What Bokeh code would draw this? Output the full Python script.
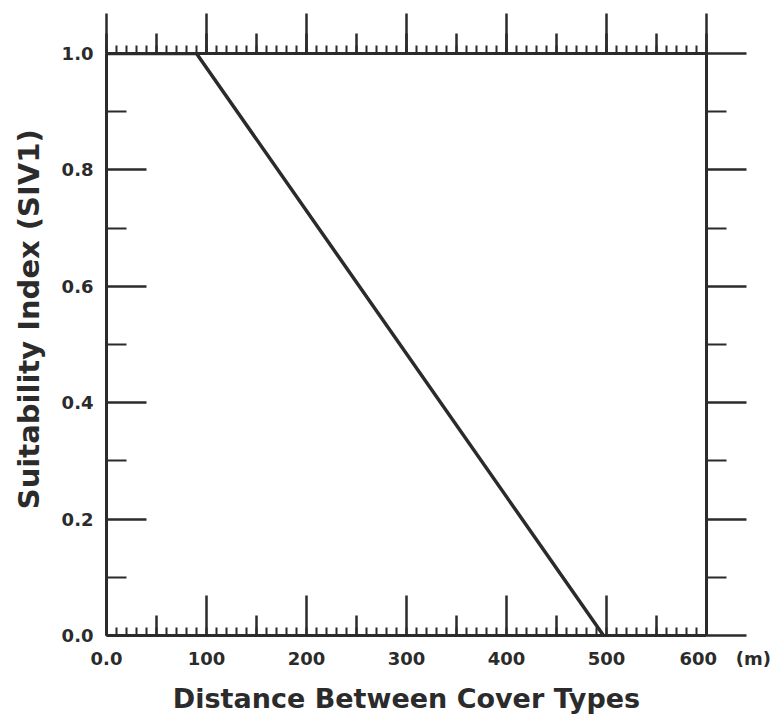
from bokeh.plotting import figure
from bokeh.models import LinearAxis, FixedTicker, CustomJSTickFormatter, Range1d
from bokeh.embed import file_html
from bokeh.resources import INLINE

# ---- data ----
dist_m = [0, 90, 497]
suitability = [1.0, 1.0, 0.0]

x_major_ticks = [0, 100, 200, 300, 400, 500, 600]
x_tick_labels = ["0.0", "100", "200", "300", "400", "500", "600"]
x_mid_ticks = [50, 150, 250, 350, 450, 550]
x_minor_ticks = list(range(0, 601, 10))
y_major_ticks = [0.0, 0.2, 0.4, 0.6, 0.8, 1.0]
y_tick_labels = ["0.0", "0.2", "0.4", "0.6", "0.8", "1.0"]
y_minor_ticks = [0.1, 0.3, 0.5, 0.7, 0.9]
x_title = "Distance Between Cover Types"
y_title = "Suitability Index (SIV1)"
x_unit = "(m)"

INK = "#2b2b2b"
FONT = "DejaVu Sans"
TICK_FS = "18px"

# last tick label carries the unit, padded so the number stays near its tick
FIG_SP = "\u2007"
NBSP = "\u00a0"
x_labels_shown = list(x_tick_labels)
x_labels_shown[-1] = FIG_SP * 3 + x_tick_labels[-1] + NBSP * 3 + x_unit
# y title sits a little above the frame centre in the original
y_title_shown = NBSP * 5 + y_title

p = figure(width=772, height=716, output_backend="svg", toolbar_location=None,
           x_range=Range1d(0, 600), y_range=Range1d(0, 1),
           x_axis_location=None, y_axis_location=None,
           min_border_left=106, min_border_top=53, min_border_right=66, min_border_bottom=79)
p.outline_line_color = None
p.grid.visible = False
p.background_fill_color = "white"
p.border_fill_color = "white"

blank = CustomJSTickFormatter(code="return ''")

def style_line(ax):
    ax.axis_line_color = INK
    ax.axis_line_width = 3
    ax.major_tick_line_color = INK
    ax.major_tick_line_width = 2.5
    ax.minor_tick_line_color = INK
    ax.minor_tick_line_width = 2

# top: inner axis with mid (50s) and minor ticks
t1 = LinearAxis(ticker=FixedTicker(ticks=x_mid_ticks + x_major_ticks, minor_ticks=x_minor_ticks),
                formatter=blank, major_label_standoff=0)
style_line(t1)
t1.major_tick_in = 0; t1.major_tick_out = 20
t1.minor_tick_in = 0; t1.minor_tick_out = 8
p.add_layout(t1, "above")

# top: outer axis carrying the long 100s ticks
t2 = LinearAxis(ticker=FixedTicker(ticks=x_major_ticks, minor_ticks=[]),
                formatter=blank, major_label_standoff=0)
style_line(t2)
t2.axis_line_color = None
t2.major_tick_in = 20; t2.major_tick_out = 20
p.add_layout(t2, "above")

# bottom: inner axis, mid + minor ticks pointing in
b1 = LinearAxis(ticker=FixedTicker(ticks=x_mid_ticks, minor_ticks=x_minor_ticks),
                formatter=blank, major_label_standoff=0)
style_line(b1)
b1.major_tick_in = 20; b1.major_tick_out = 0
b1.minor_tick_in = 8; b1.minor_tick_out = 0
p.add_layout(b1, "below")

# bottom: labelled axis, long 100s ticks pointing in
b2 = LinearAxis(ticker=FixedTicker(ticks=x_major_ticks, minor_ticks=[]),
                major_label_overrides=dict(zip(x_major_ticks, x_labels_shown)),
                axis_label=x_title)
style_line(b2)
b2.axis_line_color = None
b2.major_tick_in = 40; b2.major_tick_out = 0
b2.major_label_standoff = 12
b2.major_label_text_font = FONT
b2.major_label_text_font_size = TICK_FS
b2.major_label_text_font_style = "bold"
b2.major_label_text_color = INK
b2.axis_label_text_font = FONT
b2.axis_label_text_font_size = "27px"
b2.axis_label_text_font_style = "bold"
b2.axis_label_text_color = INK
b2.axis_label_standoff = 11
p.add_layout(b2, "below")

# left axis, ticks pointing in
l1 = LinearAxis(ticker=FixedTicker(ticks=y_major_ticks, minor_ticks=y_minor_ticks),
                major_label_overrides=dict(zip(y_major_ticks, y_tick_labels)),
                axis_label=y_title_shown)
style_line(l1)
l1.major_tick_in = 40; l1.major_tick_out = 0
l1.minor_tick_in = 20; l1.minor_tick_out = 0
l1.major_label_standoff = 13
l1.major_label_text_font = FONT
l1.major_label_text_font_size = TICK_FS
l1.major_label_text_font_style = "bold"
l1.major_label_text_color = INK
l1.axis_label_text_font = FONT
l1.axis_label_text_font_size = "29px"
l1.axis_label_text_font_style = "bold"
l1.axis_label_text_color = INK
l1.axis_label_standoff = 13
p.add_layout(l1, "left")

# right axis, ticks pointing out
r1 = LinearAxis(ticker=FixedTicker(ticks=y_major_ticks, minor_ticks=y_minor_ticks),
                formatter=blank, major_label_standoff=0)
style_line(r1)
r1.major_tick_in = 0; r1.major_tick_out = 40
r1.minor_tick_in = 0; r1.minor_tick_out = 20
p.add_layout(r1, "right")

p.line(dist_m, suitability, line_color=INK, line_width=3.5)

open("out.html", "w").write(file_html(p, INLINE))
